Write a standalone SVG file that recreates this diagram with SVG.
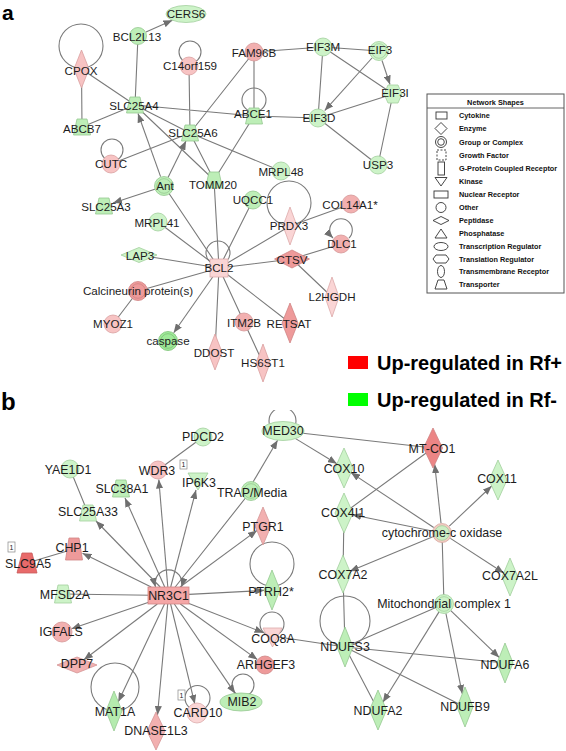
<svg xmlns="http://www.w3.org/2000/svg" width="566" height="751" viewBox="0 0 566 751">
<style>
.e{stroke:#7a7a7a;stroke-width:1.1;fill:none}
.ar{marker-end:url(#ah)}
.t{font-family:'Liberation Sans',Arial,Helvetica,sans-serif;font-size:11.6px;fill:#1c1c1c;text-anchor:middle}
.tb{font-size:12.4px}
.g1{fill:#cdf3c8;stroke:#a2cf9d;stroke-width:0.8}
.g2{fill:#bdeeb7;stroke:#96c891;stroke-width:0.8}
.g3{fill:#9fe999;stroke:#7cc276;stroke-width:0.8}
.p1{fill:#fad5d5;stroke:#dcaaaa;stroke-width:0.8}
.p2{fill:#f7c3c3;stroke:#d9a0a0;stroke-width:0.8}
.p3{fill:#f2b0b0;stroke:#d49595;stroke-width:0.8}
.p4{fill:#ee9a9a;stroke:#cf8484;stroke-width:0.8}
.p5{fill:#e86a6a;stroke:#c85a5a;stroke-width:0.8}
.in{fill:none;stroke-width:0.8}
.lg{font-family:'Liberation Sans',Arial,Helvetica,sans-serif;font-weight:bold;font-size:7.3px;fill:#111}
.li{fill:none;stroke:#333;stroke-width:0.9}
.big{font-family:'Liberation Sans',Arial,Helvetica,sans-serif;font-weight:bold;fill:#000}
.one{fill:#fff;stroke:#888;stroke-width:0.7}
.onet{font-family:'Liberation Sans',Arial,sans-serif;font-size:7px;fill:#222;text-anchor:middle}
</style>
<defs>
<marker id="ah" viewBox="0 0 10 8" refX="10" refY="4" markerWidth="9" markerHeight="7.2" markerUnits="userSpaceOnUse" orient="auto"><path d="M0,0 L10,4 L0,8 z" fill="#6f6f6f"/></marker>
<marker id="ahs" viewBox="0 0 10 8" refX="10" refY="4" markerWidth="9" markerHeight="7.2" markerUnits="userSpaceOnUse" orient="auto-start-reverse"><path d="M0,0 L10,4 L0,8 z" fill="#6f6f6f"/></marker>
<clipPath id="cm"><rect x="250" y="410" width="70" height="30"/></clipPath>
</defs>
<rect width="566" height="751" fill="#fff"/>

<text class="big" x="2" y="19.5" font-size="21">a</text>
<text class="big" x="1" y="410" font-size="24">b</text>

<g id="connectors">
<path class="e" d="M138,36 L135,105 M81.5,69 L82,127 M81.5,69 L135,105 M82,127 L135,105 M135,105 L254,116 M135,105 L190,133 M135,105 L214,180 M189,66 L190,133 M254,52 L190,133 M254,52 L254,116 M254,52 L323,47 M323,47 L379,51 M323,47 L318,118 M323,47 L393,94 M393,94 L318,118 M393,94 L378,165 M318,118 L378,165 M254,116 L318,118 M254,116 L214,180 M190,133 L214,180 M190,133 L281,171 M111,164 L190,133 M164,186 L219,268 M214,180 L219,268 M253,200 L219,268 M158,222 L219,268 M139,255 L219,268 M138,291 L219,268 M138,291 L113,324 M219,268 L215,352 M219,268 L244,322 M244,322 L263,363 M219,268 L290,323 M219,268 L292,259 M219,268 L290,226 M290,226 L351,204 M292,259 L341,244 M292,259 L332,297"/>
<circle class="e" cx="81" cy="46" r="22"/>
<circle class="e" cx="190" cy="52" r="11"/>
<circle class="e" cx="254" cy="100" r="12"/>
<circle class="e" cx="112" cy="150" r="11"/>
<circle class="e" cx="289" cy="203" r="22"/>
<circle class="e" cx="218" cy="253" r="12"/>
<path class="e ar" d="M349,238 A11.3,11.3 0 1,0 333,238"/>
<path class="e ar" d="M146,32 L172.4,20.2"/>
<path class="e ar" d="M372,58 L324.7,110.6"/>
<path class="e ar" d="M382,60.5 L390,84.5"/>
<path class="e ar" d="M160.6,176.6 L138,113.5"/>
<path class="e ar" d="M168,177.5 L186,141"/>
<path class="e ar" d="M155.5,189 L113,203"/>
<path class="e ar" d="M212.7,277 L173.7,332.8"/>

<path class="e" d="M203,437 L158,470 M70,469 L88,513 M74,549 L27,563 M283,431 L433,448 M344,513 L433,448 M344,513 L343,574 M442,533 L444,604 M343,574 L345,647 M345,647 L444,604 M345,647 L505,663 M345,647 L465,707 M345,647 L378,710 M272,636 L345,647 M168.5,595.5 L251,491 M168.5,595.5 L63,594"/>
<circle class="e" cx="282.5" cy="421" r="13.5" clip-path="url(#cm)"/>
<path class="e" d="M155.5,587 A13.5,13.5 0 1,1 181.5,587" marker-start="url(#ahs)" marker-end="url(#ah)"/>
<circle class="e" cx="272" cy="564" r="22"/>
<circle class="e" cx="272" cy="624" r="12"/>
<circle class="e" cx="345" cy="621" r="25"/>
<circle class="e" cx="115" cy="687" r="24"/>
<circle class="e" cx="243" cy="685" r="11"/>
<circle class="e" cx="197.5" cy="698" r="12.5"/>
<path class="e ar" d="M160.2,587 L96,521"/>
<path class="e ar" d="M164.7,587 L125,498"/>
<path class="e ar" d="M167.8,587 L158.8,479.5"/>
<path class="e ar" d="M170.7,587 L196,490"/>
<path class="e ar" d="M253,482 L277.6,440.2"/>
<path class="e ar" d="M180,587 L256.9,530.5"/>
<path class="e ar" d="M189,594.4 L264.2,590.4"/>
<path class="e ar" d="M189,603.5 L263.6,632.7"/>
<path class="e ar" d="M180.3,604 L257.3,659.5"/>
<path class="e ar" d="M174.3,604 L235.1,693.4"/>
<path class="e ar" d="M170.6,604 L194.8,703.8"/>
<path class="e ar" d="M167.7,604 L157.5,715"/>
<path class="e ar" d="M164.5,604 L118.3,701.8"/>
<path class="e ar" d="M157.3,604 L83.9,659.8"/>
<path class="e ar" d="M148,602.5 L71.5,628.8"/>
<path class="e ar" d="M151.2,587 L82.5,553.2"/>
<path class="e ar" d="M295.6,438.6 L336.9,463.7"/>
<path class="e ar" d="M433.7,527.5 L350.9,472.6"/>
<path class="e ar" d="M432.2,531 L352.2,514.7"/>
<path class="e ar" d="M441,523.1 L434.7,464.2"/>
<path class="e ar" d="M449.3,526.1 L491.7,486"/>
<path class="e ar" d="M432.8,536.8 L349.8,571.2"/>
<path class="e ar" d="M450.4,538.4 L503.8,573"/>
<path class="e ar" d="M450.8,610.6 L499.2,657.4"/>
<path class="e ar" d="M445.9,613.3 L462.3,693.8"/>
<path class="e ar" d="M439.2,611.6 L382.9,702.2"/>
</g>

<g id="n-CERS6"><ellipse class="g1" cx="186" cy="14" rx="20" ry="8.5"/><text class="t" x="186" y="14" dy="0.35em">CERS6</text></g>
<g id="n-BCL2L13"><circle class="g2" cx="138" cy="36" r="8.5"/><text class="t" x="137" y="37" dy="0.35em">BCL2L13</text></g>
<g id="n-CPOX"><polygon class="p2" points="81.5,50 89,69 81.5,88 74,69"/><text class="t" x="81" y="71" dy="0.35em">CPOX</text></g>
<g id="n-C14orf159"><circle class="p2" cx="189" cy="66" r="9"/><text class="t" x="190" y="66" dy="0.35em">C14orf159</text></g>
<g id="n-FAM96B"><circle class="p3" cx="254" cy="52" r="9"/><text class="t" x="254" y="53" dy="0.35em">FAM96B</text></g>
<g id="n-EIF3M"><circle class="g1" cx="323" cy="47" r="9"/><text class="t" x="323" y="47" dy="0.35em">EIF3M</text></g>
<g id="n-EIF3"><circle class="g1" cx="379" cy="51" r="9.5"/><circle class="in" cx="379" cy="51" r="7.3" stroke="#a2cf9d"/><text class="t" x="380" y="50" dy="0.35em">EIF3</text></g>
<g id="n-EIF3I"><polygon class="g1" points="388,85 398,85 402,94 398,103 388,103 384,94"/><text class="t" x="395" y="93" dy="0.35em">EIF3I</text></g>
<g id="n-EIF3D"><circle class="g1" cx="318" cy="118" r="9"/><text class="t" x="319" y="118" dy="0.35em">EIF3D</text></g>
<g id="n-USP3"><circle class="g1" cx="378" cy="165" r="9"/><text class="t" x="378" y="165" dy="0.35em">USP3</text></g>
<g id="n-ABCE1"><polygon class="g2" points="249,108 259,108 262.5,124 245.5,124"/><text class="t" x="253" y="114" dy="0.35em">ABCE1</text></g>
<g id="n-SLC25A4"><polygon class="g2" points="130,97 140,97 143.5,113 126.5,113"/><text class="t" x="134" y="106" dy="0.35em">SLC25A4</text></g>
<g id="n-ABCB7"><polygon class="g2" points="77,119 87,119 90.5,135 73.5,135"/><text class="t" x="82" y="129" dy="0.35em">ABCB7</text></g>
<g id="n-SLC25A6"><polygon class="g2" points="185,125 195,125 198.5,141 181.5,141"/><text class="t" x="193" y="133" dy="0.35em">SLC25A6</text></g>
<g id="n-CUTC"><circle class="p2" cx="111" cy="164" r="9"/><text class="t" x="111" y="164" dy="0.35em">CUTC</text></g>
<g id="n-MRPL48"><circle class="g1" cx="281" cy="171" r="9"/><text class="t" x="281" y="172" dy="0.35em">MRPL48</text></g>
<g id="n-TOMM20"><polygon class="g2" points="209,172 219,172 222.5,188 205.5,188"/><text class="t" x="213" y="185" dy="0.35em">TOMM20</text></g>
<g id="n-Ant"><circle class="g2" cx="164" cy="186" r="9.5"/><circle class="in" cx="164" cy="186" r="7.3" stroke="#96c891"/><text class="t" x="165" y="186" dy="0.35em">Ant</text></g>
<g id="n-SLC25A3"><polygon class="g2" points="99,198 109,198 112.5,214 95.5,214"/><text class="t" x="106" y="207" dy="0.35em">SLC25A3</text></g>
<g id="n-MRPL41"><circle class="g1" cx="158" cy="222" r="9"/><text class="t" x="157" y="223" dy="0.35em">MRPL41</text></g>
<g id="n-UQCC1"><circle class="g2" cx="253" cy="200" r="9"/><text class="t" x="253" y="200" dy="0.35em">UQCC1</text></g>
<g id="n-PRDX3"><polygon class="p1" points="290,207 297,226 290,245 283,226"/><text class="t" x="289" y="226" dy="0.35em">PRDX3</text></g>
<g id="n-COL14A1"><circle class="p3" cx="351" cy="204" r="9"/><text class="t" x="350" y="205" dy="0.35em">COL14A1*</text></g>
<g id="n-DLC1"><circle class="p3" cx="341" cy="244" r="9"/><text class="t" x="342" y="244" dy="0.35em">DLC1</text></g>
<g id="n-LAP3"><polygon class="g1" points="121,255 139,247.5 157,255 139,262.5"/><text class="t" x="140" y="256" dy="0.35em">LAP3</text></g>
<g id="n-CTSV"><polygon class="p4" points="274.5,259 292,250 309.5,259 292,268"/><text class="t" x="292" y="260" dy="0.35em">CTSV</text></g>
<g id="n-BCL2"><rect class="p1" x="210" y="259" width="18" height="18"/><text class="t" x="219" y="267.5" dy="0.35em">BCL2</text></g>
<g id="n-Calcineurin"><circle class="p4" cx="138" cy="291" r="9.5"/><circle class="in" cx="138" cy="291" r="7.3" stroke="#cf8484"/><text class="t" x="138" y="291" dy="0.35em">Calcineurin protein(s)</text></g>
<g id="n-L2HGDH"><polygon class="p1" points="332,277 339,297 332,317 325,297"/><text class="t" x="332" y="297" dy="0.35em">L2HGDH</text></g>
<g id="n-MYOZ1"><circle class="p2" cx="113" cy="324" r="9"/><text class="t" x="113" y="324" dy="0.35em">MYOZ1</text></g>
<g id="n-ITM2B"><circle class="p3" cx="244" cy="322" r="9"/><text class="t" x="244" y="323" dy="0.35em">ITM2B</text></g>
<g id="n-RETSAT"><polygon class="p4" points="290,303 298,323 290,343 282,323"/><text class="t" x="289" y="324" dy="0.35em">RETSAT</text></g>
<g id="n-caspase"><circle class="g3" cx="168" cy="341" r="9.5"/><circle class="in" cx="168" cy="341" r="7.3" stroke="#7cc276"/><text class="t" x="168" y="341" dy="0.35em">caspase</text></g>
<g id="n-DDOST"><polygon class="p2" points="215,334 222,352 215,370 208,352"/><text class="t" x="214" y="353" dy="0.35em">DDOST</text></g>
<g id="n-HS6ST1"><polygon class="p2" points="263,344 270,363 263,382 256,363"/><text class="t" x="263" y="363" dy="0.35em">HS6ST1</text></g>

<g id="legend">
<rect x="427" y="94" width="137" height="199" fill="#fff" stroke="#555" stroke-width="1"/>
<text class="lg" x="495.5" y="104.5" text-anchor="middle">Network Shapes</text>
<line x1="427" y1="108" x2="564" y2="108" stroke="#555" stroke-width="0.9"/>
<rect class="li" x="436" y="112" width="11" height="7"/><text class="lg" x="459" y="118">Cytokine</text>
<polygon class="li" points="441,122.5 447,128.5 441,134.5 435,128.5"/><text class="lg" x="459" y="131">Enzyme</text>
<circle class="li" cx="441" cy="142" r="5.5"/><circle class="li" cx="441" cy="142" r="3.3"/><text class="lg" x="459" y="144.5">Group or Complex</text>
<rect class="li" x="437" y="150" width="9" height="10" stroke-dasharray="2,1.5"/><text class="lg" x="459" y="157.5">Growth Factor</text>
<rect class="li" x="438" y="162" width="6.5" height="13"/><text class="lg" x="459" y="171">G-Protein Coupled Receptor</text>
<polygon class="li" points="435,177.5 447,177.5 441,186"/><text class="lg" x="459" y="184">Kinase</text>
<rect class="li" x="434" y="191" width="14" height="7"/><text class="lg" x="459" y="197">Nuclear Receptor</text>
<circle class="li" cx="441" cy="207.5" r="5"/><text class="lg" x="459" y="210">Other</text>
<polygon class="li" points="433,220.5 441,216.5 449,220.5 441,224.5"/><text class="lg" x="459" y="223">Peptidase</text>
<polygon class="li" points="441,229 447,238 435,238"/><text class="lg" x="459" y="236">Phosphatase</text>
<ellipse class="li" cx="441" cy="246.5" rx="7" ry="4"/><text class="lg" x="459" y="249">Transcription Regulator</text>
<polygon class="li" points="436,255 446,255 449,259 446,263 436,263 433,259"/><text class="lg" x="459" y="261.5">Translation Regulator</text>
<ellipse class="li" cx="441" cy="271.5" rx="3.5" ry="6"/><text class="lg" x="459" y="274">Transmembrane Receptor</text>
<polygon class="li" points="438,280 444,280 447,289 435,289"/><text class="lg" x="459" y="287">Transporter</text>
</g>

<g id="key">
<rect x="348" y="356" width="20" height="13" fill="#ff0000"/>
<text class="big" x="377" y="370" font-size="20">Up-regulated in Rf+</text>
<rect x="348" y="393" width="20" height="13" fill="#00ff00"/>
<text class="big" x="377" y="406.5" font-size="20">Up-regulated in Rf-</text>
</g>

<g id="n-MED30"><ellipse class="g1" cx="283" cy="431" rx="21" ry="9.5"/><text class="t tb" x="283" y="431" dy="0.35em">MED30</text></g>
<g id="n-PDCD2"><circle class="g1" cx="203" cy="437" r="9"/><text class="t tb" x="203" y="437" dy="0.35em">PDCD2</text></g>
<g id="n-MT-CO1"><polygon class="p4" points="433,428 442.5,448 433,468 423.5,448" style="fill:#ec8585"/><text class="t tb" x="432" y="449" dy="0.35em">MT-CO1</text></g>
<g id="n-YAE1D1"><circle class="g1" cx="70" cy="469" r="9"/><text class="t tb" x="68" y="470" dy="0.35em">YAE1D1</text></g>
<g id="n-WDR3"><circle class="p2" cx="158" cy="470" r="9"/><text class="t tb" x="157" y="471" dy="0.35em">WDR3</text><rect class="one" x="180" y="460" width="7" height="9"/><text class="onet" x="183.5" y="467">1</text></g>
<g id="n-IP6K3"><polygon class="g1" points="188,473 208,473 198,490"/><text class="t tb" x="199" y="483" dy="0.35em">IP6K3</text></g>
<g id="n-SLC38A1"><polygon class="g2" points="116,480 126,480 129.5,497 112.5,497"/><text class="t tb" x="122" y="489" dy="0.35em">SLC38A1</text></g>
<g id="n-COX10"><polygon class="g1" points="344,448 353,468 344,488 335,468"/><text class="t tb" x="344" y="469" dy="0.35em">COX10</text></g>
<g id="n-COX11"><polygon class="g1" points="498,460 507,480 498,500 489,480"/><text class="t tb" x="497" y="479" dy="0.35em">COX11</text></g>
<g id="n-TRAP"><circle class="g2" cx="251" cy="491" r="9.5"/><circle class="in" cx="251" cy="491" r="7.3" stroke="#96c891"/><text class="t tb" x="252" y="493" dy="0.35em">TRAP/Media</text></g>
<g id="n-COX4I1"><polygon class="g1" points="344,493 353,513 344,533 335,513"/><text class="t tb" x="343" y="513" dy="0.35em">COX4I1</text></g>
<g id="n-SLC25A33"><polygon class="g1" points="83,505 93,505 96.5,521 79.5,521"/><text class="t tb" x="88" y="512" dy="0.35em">SLC25A33</text></g>
<g id="n-cytc"><circle cx="442" cy="533" r="9.5" fill="#f2cbc2" stroke="#d7a9a0" stroke-width="0.8"/><circle cx="442" cy="533" r="7.3" fill="#cdeec4" stroke="#a2cf9d" stroke-width="0.8"/><text class="t tb" x="442" y="533" dy="0.35em">cytochrome-c oxidase</text></g>
<g id="n-PTGR1"><polygon class="p3" points="263,507 271,526 263,545 255,526"/><text class="t tb" x="263" y="527" dy="0.35em">PTGR1</text></g>
<g id="n-CHP1"><polygon class="p4" points="69,538 79,538 82.5,560 65.5,560"/><text class="t tb" x="72" y="548" dy="0.35em">CHP1</text></g>
<g id="n-SLC9A5"><rect class="one" x="8" y="542" width="7" height="10"/><text class="onet" x="11.5" y="550">1</text><polygon class="p5" points="22,553 32,553 37,573 17,573"/><text class="t tb" x="28" y="564" dy="0.35em">SLC9A5</text></g>
<g id="n-NR3C1"><rect class="p4" x="148" y="587" width="41" height="17" style="fill:#f4a6a6"/><text class="t tb" x="168.5" y="596" dy="0.35em">NR3C1</text></g>
<g id="n-MFSD2A"><polygon class="g1" points="58,585 68,585 71.5,603 54.5,603"/><text class="t tb" x="65" y="595" dy="0.35em">MFSD2A</text></g>
<g id="n-PTRH2"><polygon class="g2" points="272,570 280,590 272,610 264,590"/><text class="t tb" x="271" y="592" dy="0.35em">PTRH2*</text></g>
<g id="n-COX7A2"><polygon class="g1" points="343,555 351,574 343,593 335,574"/><text class="t tb" x="343" y="575" dy="0.35em">COX7A2</text></g>
<g id="n-COX7A2L"><polygon class="g1" points="510,558 518,577 510,596 502,577"/><text class="t tb" x="510" y="576" dy="0.35em">COX7A2L</text></g>
<g id="n-MitoC1"><circle class="g1" cx="444" cy="604" r="9.5"/><circle class="in" cx="444" cy="604" r="7.3" stroke="#a2cf9d"/><text class="t tb" x="444" y="604" dy="0.35em">Mitochondrial complex 1</text></g>
<g id="n-IGFALS"><circle class="p3" cx="62" cy="632" r="10"/><text class="t tb" x="61" y="632" dy="0.35em">IGFALS</text></g>
<g id="n-COQ8A"><polygon class="p1" points="263,628 282,628 272.5,647"/><text class="t tb" x="273" y="639" dy="0.35em">COQ8A</text></g>
<g id="n-NDUFS3"><polygon class="g2" points="345,627 353,647 345,667 337,647"/><text class="t tb" x="345" y="647" dy="0.35em">NDUFS3</text></g>
<g id="n-ARHGEF3"><circle class="p4" cx="265" cy="665" r="9"/><text class="t tb" x="266" y="665" dy="0.35em">ARHGEF3</text></g>
<g id="n-DPP7"><polygon class="p3" points="57,665 77,657 97,665 77,673"/><text class="t tb" x="77" y="664" dy="0.35em">DPP7</text></g>
<g id="n-NDUFA6"><polygon class="g2" points="505,643 513,663 505,683 497,663"/><text class="t tb" x="505" y="665" dy="0.35em">NDUFA6</text></g>
<g id="n-MAT1A"><polygon class="g2" points="114,691 122,711 114,731 106,711" style="fill:#b4ebae"/><text class="t tb" x="115" y="712" dy="0.35em">MAT1A</text></g>
<g id="n-MIB2"><ellipse class="g2" cx="241" cy="702" rx="21" ry="9"/><text class="t tb" x="242" y="702" dy="0.35em">MIB2</text></g>
<g id="n-CARD10"><rect class="one" x="178" y="690" width="7" height="10"/><text class="onet" x="181.5" y="698">1</text><circle class="p1" cx="197" cy="713" r="10"/><text class="t tb" x="198" y="713" dy="0.35em">CARD10</text></g>
<g id="n-DNASE1L3"><polygon class="p3" points="156,712 165,731 156,750 147,731"/><text class="t tb" x="156" y="731" dy="0.35em">DNASE1L3</text></g>
<g id="n-NDUFA2"><polygon class="g2" points="378,690 386.5,710 378,730 369.5,710"/><text class="t tb" x="378" y="711" dy="0.35em">NDUFA2</text></g>
<g id="n-NDUFB9"><polygon class="g2" points="465,687 473,707 465,727 457,707"/><text class="t tb" x="465" y="707" dy="0.35em">NDUFB9</text></g>
</svg>
